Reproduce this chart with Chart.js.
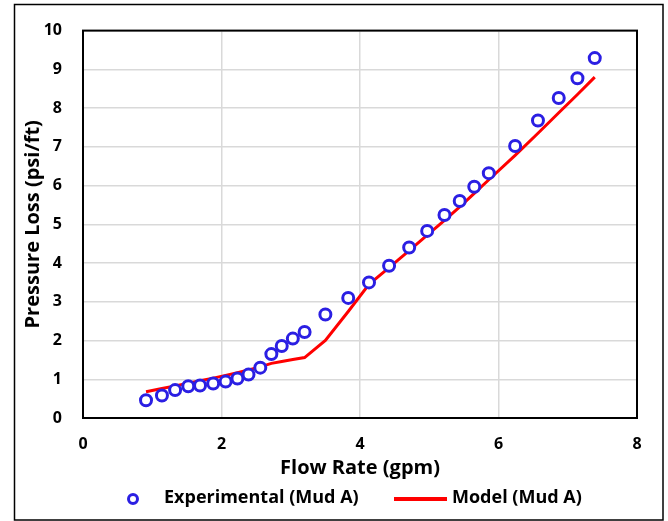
<!DOCTYPE html>
<html>
<head>
<meta charset="utf-8">
<script src="https://cdn.jsdelivr.net/npm/chart.js@4/dist/chart.umd.min.js"></script>
<style>
  html, body { margin: 0; padding: 0; background: #fff; }
  #wrap { width: 668px; height: 521px; }
</style>
</head>
<body>
<div id="wrap"><canvas id="chart"></canvas></div>
<script>
// experimental points (flow rate in gpm, pressure loss in psi/ft)
const expFlow = [0.91, 1.14, 1.33, 1.52, 1.69, 1.88, 2.06, 2.23, 2.39, 2.56, 2.72, 2.87, 3.03, 3.20,
                 3.50, 3.83, 4.13, 4.42, 4.71, 4.97, 5.22, 5.44, 5.65, 5.86, 6.24, 6.57, 6.87, 7.14, 7.39];
const expLoss = [0.46, 0.58, 0.72, 0.82, 0.84, 0.89, 0.94, 1.02, 1.12, 1.30, 1.65, 1.86, 2.05, 2.22,
                 2.67, 3.10, 3.50, 3.93, 4.40, 4.83, 5.24, 5.60, 5.97, 6.32, 7.02, 7.68, 8.26, 8.77, 9.29];
// model curve, read at the same flow rates
const modelFlow = expFlow;
const modelLoss = [0.68, 0.76, 0.83, 0.90, 0.96, 1.03, 1.10, 1.17, 1.24, 1.32, 1.41, 1.46, 1.51, 1.56,
                   2.00, 2.75, 3.45, 3.88, 4.32, 4.72, 5.10, 5.45, 5.80, 6.15, 6.78, 7.35, 7.88, 8.35, 8.80];
const seriesNames = ['Experimental (Mud A)', 'Model (Mud A)'];
const xTitle = 'Flow Rate (gpm)';
const yTitle = 'Pressure Loss (psi/ft)';

const FONT = '"Open Sans", Lato, sans-serif';
const BLUE = '#2B1FE3';
const RED = '#FF0000';

const toPoints = (xs, ys) => xs.map((x, i) => ({x: x, y: ys[i]}));

// outer box + plot frame
const frame = {
    id: 'frame',
    beforeDraw(chart) {
        const ctx = chart.ctx;
        ctx.save();
        ctx.fillStyle = '#fff';
        ctx.fillRect(0, 0, chart.width, chart.height);
        ctx.strokeStyle = '#000';
        ctx.lineWidth = 1.5;
        ctx.strokeRect(14.5, 4.5, 648.5, 515.5);
        ctx.restore();
    },
    afterDatasetsDraw(chart) {
        const a = chart.chartArea;
        const ctx = chart.ctx;
        ctx.save();
        ctx.strokeStyle = '#000';
        ctx.lineWidth = 2;
        ctx.strokeRect(a.left, a.top, a.right - a.left, a.bottom - a.top);
        ctx.restore();
    }
};

// legend drawn by hand so it sits like the original
const legendRow = {
    id: 'legendRow',
    afterDraw(chart) {
        const ctx = chart.ctx;
        const y = 498;
        const ds0 = chart.data.datasets[0];
        const ds1 = chart.data.datasets[1];
        ctx.save();
        ctx.beginPath();
        ctx.arc(133, y + 1, ds0.pointRadius - 1, 0, Math.PI * 2);
        ctx.strokeStyle = ds0.borderColor;
        ctx.lineWidth = ds0.borderWidth;
        ctx.stroke();
        ctx.beginPath();
        ctx.moveTo(394, y + 1);
        ctx.lineTo(447, y + 1);
        ctx.strokeStyle = ds1.borderColor;
        ctx.lineWidth = 4;
        ctx.stroke();
        ctx.fillStyle = '#000';
        ctx.font = 'bold 18px ' + FONT;
        ctx.textBaseline = 'middle';
        ctx.textAlign = 'left';
        ctx.fillText(ds0.label, 164, y);
        ctx.fillText(ds1.label, 452, y);
        ctx.restore();
    }
};

new Chart(document.getElementById('chart'), {
    type: 'scatter',
    data: {
        datasets: [
            {
                label: seriesNames[0],
                data: toPoints(expFlow, expLoss),
                pointStyle: 'circle',
                pointRadius: 5.5,
                pointBorderWidth: 3,
                borderWidth: 3,
                borderColor: BLUE,
                backgroundColor: 'rgba(0,0,0,0)',
                pointBackgroundColor: '#fff',
                order: 0
            },
            {
                label: seriesNames[1],
                data: toPoints(modelFlow, modelLoss),
                showLine: true,
                pointRadius: 0,
                borderColor: RED,
                backgroundColor: RED,
                borderWidth: 3,
                tension: 0,
                order: 1
            }
        ]
    },
    options: {
        responsive: true,
        maintainAspectRatio: false,
        animation: false,
        layout: { padding: { left: 14, top: 29, right: 31, bottom: 41 } },
        plugins: {
            legend: { display: false },
            tooltip: { enabled: false }
        },
        scales: {
            x: {
                type: 'linear',
                min: 0,
                max: 8,
                afterFit(scale) { scale.height = 62; },
                ticks: {
                    stepSize: 2,
                    padding: 17,
                    color: '#000',
                    font: { family: FONT, size: 16, weight: 'bold' }
                },
                grid: { color: '#D9D9D9', lineWidth: 1.5, drawTicks: false },
                border: { display: false },
                title: {
                    display: true,
                    text: xTitle,
                    color: '#000',
                    padding: { top: 0, bottom: 0 },
                    font: { family: FONT, size: 20, weight: 'bold' }
                }
            },
            y: {
                type: 'linear',
                min: 0,
                max: 10,
                afterFit(scale) { scale.width = 69; },
                ticks: {
                    stepSize: 1,
                    padding: 21,
                    color: '#000',
                    font: { family: FONT, size: 16, weight: 'bold' }
                },
                grid: { color: '#D9D9D9', lineWidth: 1.5, drawTicks: false },
                border: { display: false },
                title: {
                    display: true,
                    text: yTitle,
                    color: '#000',
                    padding: { top: 7, bottom: 0 },
                    font: { family: FONT, size: 20, weight: 'bold' }
                }
            }
        }
    },
    plugins: [frame, legendRow]
});
</script>
</body>
</html>
